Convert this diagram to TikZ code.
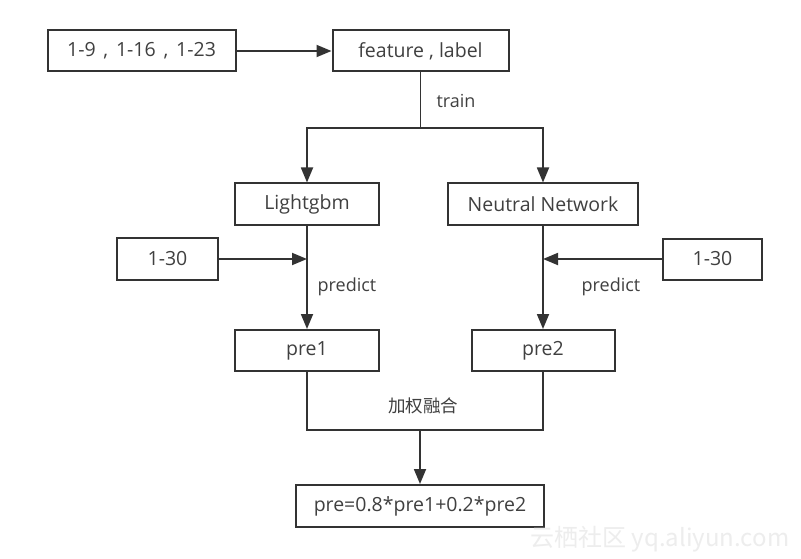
\documentclass[tikz,border=0pt]{standalone}
\usepackage{fontspec}
\setmainfont{Open Sans}
\newfontfamily\cjk{Noto Sans CJK SC}
\usetikzlibrary{arrows.meta}
\begin{document}
\begin{tikzpicture}[x=1pt,y=-1pt,
  box/.style={draw=black!80, line width=2pt, minimum height=41pt, inner sep=0pt,
    font=\fontsize{19.5}{22}\selectfont, text=black!75},
  conn/.style={draw=black!80, line width=1.8pt},
  arr/.style={conn, -{Triangle[length=15pt,width=12pt]}},
  lbl/.style={font=\fontsize{18}{20}\selectfont, text=black!75},
  wm/.style={text=black!7, font=\cjk\fontsize{24}{26}\selectfont}]
\fill[white] (0,0) rectangle (801,559);
\useasboundingbox (0,0) rectangle (801,559);
\node[box, minimum width=188pt] (a) at (141.5,51) {\spaceskip=0.4em 1-9 , 1-16 , 1-23};
\node[box, minimum width=176pt] (b) at (420.5,51) {feature , label};
\node[box, minimum width=144pt] (lg) at (307,204) {Lightgbm};
\node[box, minimum width=190pt] (nn) at (543,204) {Neutral Network};
\node[box, minimum width=101pt, minimum height=42pt] (l30) at (167.5,259) {1-30};
\node[box, minimum width=99pt, minimum height=41pt] (r30) at (712.5,259) {1-30};
\node[box, minimum width=144pt] (p1) at (307,350.5) {pre1};
\node[box, minimum width=143pt] (p2) at (543,350.5) {pre2};
\node[box, minimum width=248pt, minimum height=42pt] (res) at (420,506) {pre=0.8*pre1+0.2*pre2};
\coordinate (t) at (420.5,128);
\coordinate (m) at (420,430);
\draw[arr] (a) -- (b);
\draw[conn] (b.south) -- (t);
\draw[arr] (t) -| (lg.north);
\draw[arr] (t) -| (nn.north);
\draw[arr] (l30.east) -- (l30.east -| lg.south);
\draw[arr] (r30.west) -- (r30.west -| nn.south);
\draw[arr] (lg) -- (p1);
\draw[arr] (nn) -- (p2);
\draw[conn] (p1.south) |- (m);
\draw[conn] (p2.south) |- (m);
\draw[arr] (m) -- (res);
\node[lbl] (ltrain) at (456,101) {train};
\node[lbl] (lpl) at (347,287) {predict};
\node[lbl] (lpr) at (611,287) {predict};
\node[lbl, font=\cjk\fontsize{17.5}{19}\selectfont] (lfuse) at (423,406) {加权融合};
\node[wm] (wmark) at (660,539) {云栖社区 yq.aliyun.com};
\end{tikzpicture}
\end{document}
